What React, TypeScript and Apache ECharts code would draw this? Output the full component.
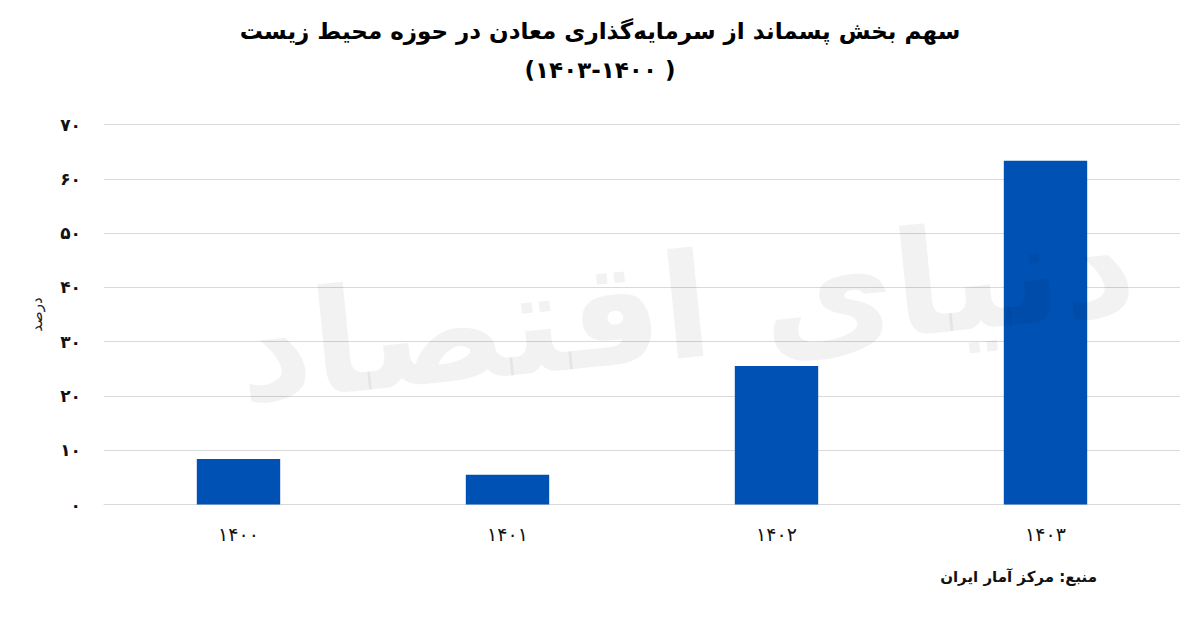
import React, { useEffect, useRef } from "react";
import * as echarts from "echarts";

const categories = ["۱۴۰۰", "۱۴۰۱", "۱۴۰۲", "۱۴۰۳"];
const values = [8.4, 5.5, 25.5, 63.3];
const titleLine1 = "سهم بخش پسماند از سرمایه‌گذاری معادن در حوزه محیط زیست";
const titleLine2 = "(۱۴۰۳-۱۴۰۰ )";
const yAxisName = "درصد";
const sourceText = "منبع: مرکز آمار ایران";
const watermark = "دنیای اقتصاد";

const toFa = (s: string) => s.replace(/\d/g, (d) => "۰۱۲۳۴۵۶۷۸۹"[+d]);
const FONT = "DejaVu Sans";

export default function App() {
  const ref = useRef<HTMLDivElement>(null);
  useEffect(() => {
    if (!ref.current) return;
    const chart = echarts.init(ref.current, undefined, { renderer: "svg" });
    chart.setOption({
      animation: false,
      backgroundColor: "#ffffff",
      textStyle: { fontFamily: FONT },
      title: {
        text: titleLine1 + "\n" + titleLine2,
        left: "center",
        top: 6,
        textStyle: {
          fontFamily: FONT,
          fontSize: 23,
          fontWeight: "bold",
          color: "#000",
          lineHeight: 39,
        },
      },
      grid: { left: 104, right: 20, top: 124.5, bottom: 112.5 },
      xAxis: {
        type: "category",
        data: categories,
        axisLine: { lineStyle: { color: "#d9d9d9" } },
        axisTick: { show: false },
        axisLabel: { fontSize: 19, color: "#111", margin: 20, fontFamily: FONT },
      },
      yAxis: {
        type: "value",
        min: 0,
        max: 70,
        interval: 10,
        name: yAxisName,
        nameLocation: "middle",
        nameRotate: 90,
        nameGap: 60,
        nameTextStyle: { fontSize: 15, color: "#222", fontFamily: FONT },
        axisLine: { show: false },
        axisTick: { show: false },
        splitLine: { lineStyle: { color: "#d9d9d9", width: 1 } },
        axisLabel: {
          fontSize: 17,
          fontWeight: "bold",
          color: "#111",
          margin: 23,
          fontFamily: FONT,
          formatter: (v: number) => toFa(String(v)),
        },
      },
      series: [
        {
          type: "bar",
          data: values,
          barWidth: "31%",
          itemStyle: { color: "#0051b4" },
          z: 2,
        },
      ],
      graphic: [
        {
          type: "text",
          left: 230,
          top: 190,
          rotation: 0.1,
          z: 100,
          silent: true,
          style: {
            text: watermark,
            font: `bold 145px "${FONT}"`,
            fill: "rgba(0,0,0,0.05)",
          },
        },
        {
          type: "text",
          x: 1097,
          y: 577,
          style: {
            text: sourceText,
            font: `bold 15px "${FONT}"`,
            fill: "#111",
            textAlign: "right",
            textVerticalAlign: "middle",
          },
        },
      ],
    });
    return () => chart.dispose();
  }, []);
  return (
    <div
      ref={ref}
      style={{ position: "fixed", left: 0, top: 0, width: 1200, height: 617 }}
    />
  );
}
